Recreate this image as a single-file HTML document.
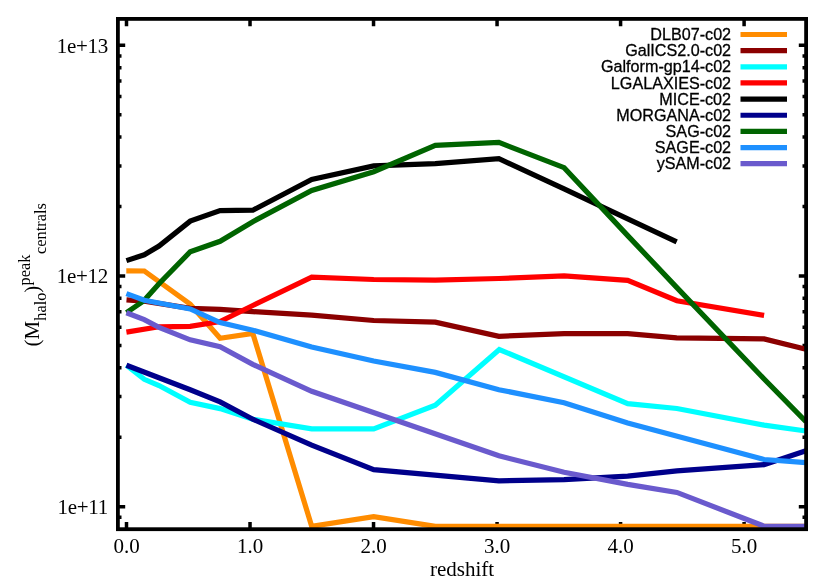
<!DOCTYPE html>
<html><head><meta charset="utf-8"><title>plot</title>
<style>html,body{margin:0;padding:0;background:#fff;}svg{display:block;}text{font-family:"Liberation Serif",serif;fill:#000;}.k{font-family:"Liberation Sans",sans-serif;font-size:16.15px;stroke:#000;stroke-width:0.3px;}</style></head><body>
<svg width="830" height="581" viewBox="0 0 830 581">
<rect width="830" height="581" fill="#fff"/>
<path d="M126.50,529.2v-7.3M126.50,18.9v7.3M250.02,529.2v-7.3M250.02,18.9v7.3M373.54,529.2v-7.3M373.54,18.9v7.3M497.06,529.2v-7.3M497.06,18.9v7.3M620.58,529.2v-7.3M620.58,18.9v7.3M744.10,529.2v-7.3M744.10,18.9v7.3M117.9,506.68h7.3M806.1,506.68h-7.3M117.9,276.00h7.3M806.1,276.00h-7.3M117.9,45.32h7.3M806.1,45.32h-7.3M117.9,517.24h3.6M806.1,517.24h-3.6M117.9,437.24h3.6M806.1,437.24h-3.6M117.9,396.62h3.6M806.1,396.62h-3.6M117.9,367.80h3.6M806.1,367.80h-3.6M117.9,345.44h3.6M806.1,345.44h-3.6M117.9,327.18h3.6M806.1,327.18h-3.6M117.9,311.73h3.6M806.1,311.73h-3.6M117.9,298.36h3.6M806.1,298.36h-3.6M117.9,286.56h3.6M806.1,286.56h-3.6M117.9,206.56h3.6M806.1,206.56h-3.6M117.9,165.94h3.6M806.1,165.94h-3.6M117.9,137.12h3.6M806.1,137.12h-3.6M117.9,114.76h3.6M806.1,114.76h-3.6M117.9,96.50h3.6M806.1,96.50h-3.6M117.9,81.05h3.6M806.1,81.05h-3.6M117.9,67.68h3.6M806.1,67.68h-3.6M117.9,55.88h3.6M806.1,55.88h-3.6" stroke="#000" stroke-width="3.5" fill="none"/>
<clipPath id="c"><rect x="117.9" y="18.9" width="688.2" height="510.3"/></clipPath>
<g clip-path="url(#c)" fill="none" stroke-width="5.2" stroke-linejoin="miter" stroke-linecap="butt">
<polyline stroke="#FF8C00" points="126.3,270.9 144.3,271.0 190.2,304.2 220.1,338.3 252.8,333.5 311.7,526.3 373.7,516.6 435.3,526.3 806.0,526.3"/>
<polyline stroke="#8B0000" points="126.5,299.9 144.3,301.2 190.2,308.3 220.1,309.4 252.8,311.6 311.7,315.1 373.7,320.5 435.3,322.1 498.9,336.3 564.1,333.7 627.7,333.7 676.7,337.8 764.1,338.9 806.0,349.3"/>
<polyline stroke="#00FFFF" points="126.4,365.2 144.3,379.3 159.0,385.5 190.2,402.4 220.1,408.6 252.8,419.2 311.7,428.9 373.7,428.9 435.3,405.2 499.3,349.5 627.7,403.6 676.9,408.5 764.1,425.1 806.0,431.0"/>
<polyline stroke="#FF0000" points="126.4,332.1 159.0,326.8 190.2,326.3 220.1,321.5 252.8,305.5 311.7,277.2 373.7,279.5 435.3,280.1 498.9,278.5 564.1,275.8 627.7,280.4 676.9,300.7 764.1,315.4"/>
<polyline stroke="#000000" points="126.4,260.6 144.3,254.8 159.0,246.1 190.2,221.1 220.1,210.6 252.8,210.2 311.7,179.4 373.7,165.9 435.3,163.6 498.9,158.6 564.1,188.9 627.7,218.8 676.7,241.8"/>
<polyline stroke="#00008B" points="126.4,365.2 190.2,389.7 220.1,401.9 252.8,419.2 311.7,445.2 373.7,469.7 498.9,480.9 564.1,479.6 627.7,476.1 676.9,470.9 764.1,464.7 806.0,450.7"/>
<polyline stroke="#006400" points="126.5,312.7 143.8,300.8 159.0,283.8 190.2,251.8 220.1,241.3 252.8,221.7 311.7,190.4 373.7,171.7 435.3,145.3 498.9,142.4 564.1,167.6 627.7,235.6 676.9,287.6 764.1,379.0 806.0,421.7"/>
<polyline stroke="#1E90FF" points="126.4,293.6 144.3,300.3 190.2,309.0 220.1,322.5 252.8,330.2 311.7,347.0 373.7,361.0 435.3,372.4 498.9,389.7 564.1,402.7 627.7,422.9 764.1,459.5 806.0,462.7"/>
<polyline stroke="#6A5ACD" points="126.4,312.8 144.3,319.6 159.0,327.3 190.2,339.8 220.1,346.7 252.8,364.3 311.7,391.3 498.9,455.8 564.1,472.2 627.7,484.4 676.9,492.4 764.4,526.3 806.0,526.3"/>
</g>
<g style="will-change:transform">
<text class="k" x="731.1" y="40.1" text-anchor="end">DLB07-c02</text>
<text class="k" x="731.1" y="56.2" text-anchor="end">GalICS2.0-c02</text>
<text class="k" x="731.1" y="72.4" text-anchor="end">Galform-gp14-c02</text>
<text class="k" x="731.1" y="88.5" text-anchor="end">LGALAXIES-c02</text>
<text class="k" x="731.1" y="104.7" text-anchor="end">MICE-c02</text>
<text class="k" x="731.1" y="120.8" text-anchor="end">MORGANA-c02</text>
<text class="k" x="731.1" y="137.0" text-anchor="end">SAG-c02</text>
<text class="k" x="731.1" y="153.1" text-anchor="end">SAGE-c02</text>
<text class="k" x="731.1" y="169.3" text-anchor="end">ySAM-c02</text>
<path d="M740.5,34.5H787" stroke="#FF8C00" stroke-width="5.2"/>
<path d="M740.5,50.65H787" stroke="#8B0000" stroke-width="5.2"/>
<path d="M740.5,66.8H787" stroke="#00FFFF" stroke-width="5.2"/>
<path d="M740.5,82.94999999999999H787" stroke="#FF0000" stroke-width="5.2"/>
<path d="M740.5,99.1H787" stroke="#000000" stroke-width="5.2"/>
<path d="M740.5,115.25H787" stroke="#00008B" stroke-width="5.2"/>
<path d="M740.5,131.39999999999998H787" stroke="#006400" stroke-width="5.2"/>
<path d="M740.5,147.54999999999998H787" stroke="#1E90FF" stroke-width="5.2"/>
<path d="M740.5,163.7H787" stroke="#6A5ACD" stroke-width="5.2"/>
<rect x="117.9" y="18.9" width="688.2" height="510.3" fill="none" stroke="#000" stroke-width="3.8"/>
<text x="126.5" y="552.5" font-size="21" text-anchor="middle">0.0</text>
<text x="250.0" y="552.5" font-size="21" text-anchor="middle">1.0</text>
<text x="373.5" y="552.5" font-size="21" text-anchor="middle">2.0</text>
<text x="497.1" y="552.5" font-size="21" text-anchor="middle">3.0</text>
<text x="620.6" y="552.5" font-size="21" text-anchor="middle">4.0</text>
<text x="744.1" y="552.5" font-size="21" text-anchor="middle">5.0</text>
<text x="107.9" y="514.0" font-size="21" text-anchor="end" letter-spacing="-0.3">1e+11</text>
<text x="107.9" y="283.3" font-size="21" text-anchor="end" letter-spacing="-0.3">1e+12</text>
<text x="107.9" y="52.6" font-size="21" text-anchor="end" letter-spacing="-0.3">1e+13</text>
<text x="462" y="576.4" font-size="21" text-anchor="middle">redshift</text>
<text transform="translate(38.5,346.4) rotate(-90)" font-size="21">(M</text>
<text transform="translate(45.8,320.8) rotate(-90)" font-size="16.4">halo</text>
<text transform="translate(38.5,292.7) rotate(-90)" font-size="21">)</text>
<text transform="translate(29.6,285.5) rotate(-90)" font-size="16.4">peak</text>
<text transform="translate(46.2,254.0) rotate(-90)" font-size="16.4">centrals</text>
</g>
</svg></body></html>
